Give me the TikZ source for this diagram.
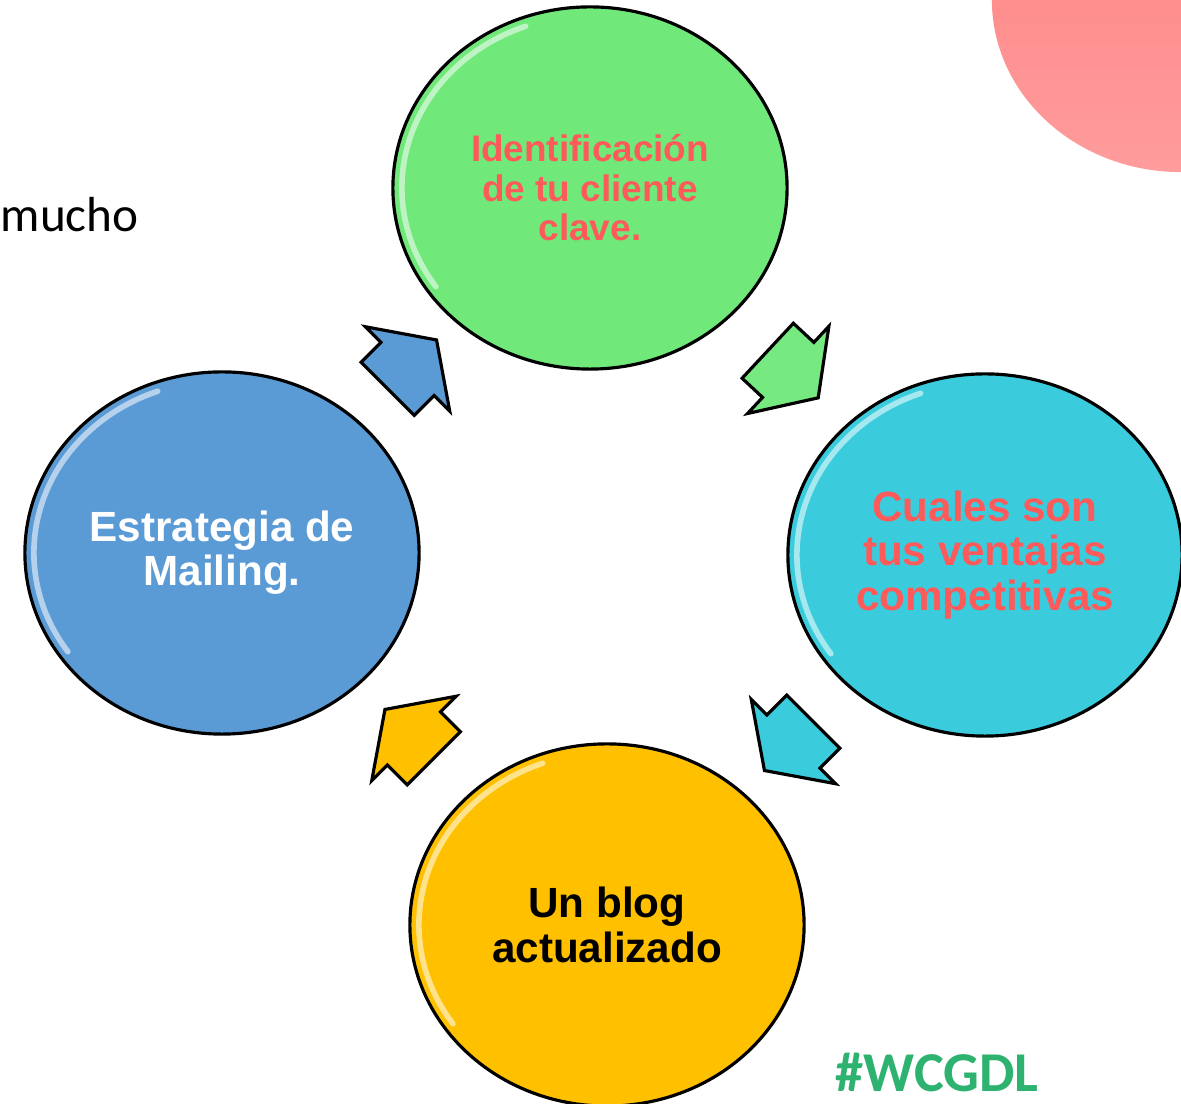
\documentclass[tikz,border=0pt]{standalone}
\usepackage{fontspec}
\setmainfont{Liberation Sans}
\newfontfamily\calibri{Carlito}
\usepackage{tikz}
\usetikzlibrary{positioning}
\usetikzlibrary{shapes.geometric}
\usetikzlibrary{shapes.arrows}
\usetikzlibrary{calc}
\usepackage{xcolor}
\definecolor{greenball}{HTML}{70E87A}
\definecolor{tealball}{HTML}{3ACCDC}
\definecolor{blueball}{HTML}{5B9BD5}
\definecolor{yellowball}{HTML}{FFC000}
\definecolor{redtext}{HTML}{FF5A5A}
\definecolor{tagtext}{HTML}{2DB36F}
\definecolor{pinktop}{HTML}{FF8080}
\definecolor{pinkbottom}{HTML}{FF9C9C}

\begin{document}
\begin{tikzpicture}[x=0.01cm,y=-0.01cm,
    ball/.style={ellipse, draw=black, line width=0.9pt, minimum width=3.94cm,
                 minimum height=3.62cm, align=center, inner sep=0pt},
    turn/.style={single arrow, draw=black, line width=0.9pt,
                 single arrow head extend=0.22cm, single arrow tip angle=111,
                 inner xsep=0.2cm, inner ysep=0.36cm, minimum width=0.8cm},
    rim/.style={white, opacity=0.55, line width=1.6pt, line cap=round}]
    \useasboundingbox (0,0) rectangle (1181,1104);
    \clip (0,0) rectangle (1181,1104);

    \shade[top color=pinktop, bottom color=pinkbottom] (1181,0) ellipse [x radius=1.89cm, y radius=1.72cm];

    \node[anchor=base west, inner sep=0pt, font=\calibri\fontsize{14}{16}\selectfont] (mucho) at (0,232) {mucho};

    \node[ball, fill=greenball, text=redtext, font=\bfseries\fontsize{10.5}{11.2}\selectfont]
        (cliente) at (590,188) {Identificación\\de tu cliente\\clave.};
    \node[ball, fill=tealball, text=redtext, font=\bfseries\fontsize{12}{12.6}\selectfont]
        (ventajas) at (985,555) {Cuales son\\tus ventajas\\competitivas};
    \node[ball, fill=yellowball, text=black, font=\bfseries\fontsize{12}{12.6}\selectfont]
        (blog) at (607,925) {Un blog\\actualizado};
    \node[ball, fill=blueball, text=white, font=\bfseries\fontsize{12}{12.6}\selectfont]
        (mailing) at (222,553) {Estrategia de\\Mailing.};

    \foreach \n in {cliente,ventajas,blog,mailing}
        \draw[rim] ($(\n.center)+(110:1.88cm and 1.72cm)$) arc[start angle=110, end angle=215, x radius=1.88cm, y radius=1.72cm];

    \node[turn, fill=greenball!95!white, rotate=-43] (aventajas) at ($(cliente)!0.5!(ventajas)+(-4,-6)$) {};
    \node[turn, fill=tealball, rotate=-135] (ablog) at ($(ventajas)!0.5!(blog)+(2,-3)$) {};
    \node[turn, fill=yellowball, rotate=135] (amailing) at ($(blog)!0.5!(mailing)+(4,4)$) {};
    \node[turn, fill=blueball, rotate=45] (acliente) at ($(mailing)!0.5!(cliente)+(-3,3)$) {};

    \node[anchor=base west, inner sep=0pt, text=tagtext, font=\calibri\bfseries\fontsize{16}{18}\selectfont] (tag) at (835,1092) {\#WCGDL};
\end{tikzpicture}
\end{document}
